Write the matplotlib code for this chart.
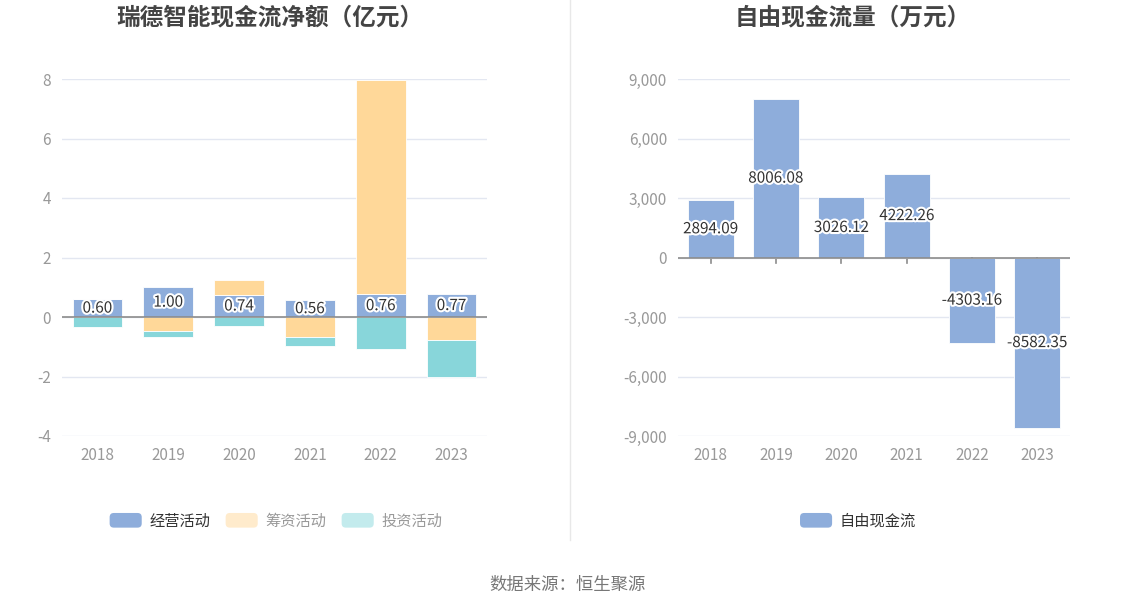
import matplotlib
matplotlib.use("Agg")
import matplotlib.pyplot as plt
import matplotlib.patheffects as pe
from matplotlib.patches import Patch, FancyBboxPatch
from matplotlib.legend_handler import HandlerPatch
from matplotlib.ticker import FuncFormatter
import numpy as np

plt.rcParams['font.family'] = ['Noto Sans CJK SC', 'DejaVu Sans']
plt.rcParams['axes.unicode_minus'] = False

years = ['2018', '2019', '2020', '2021', '2022', '2023']
operating = [0.60, 1.00, 0.74, 0.56, 0.76, 0.77]
financing = [0.00, -0.47, 0.50, -0.68, 7.19, -0.76]
investing = [-0.32, -0.19, -0.30, -0.29, -1.09, -1.24]
free_cf = [2894.09, 8006.08, 3026.12, 4222.26, -4303.16, -8582.35]

left_title = '瑞德智能现金流净额（亿元）'
right_title = '自由现金流量（万元）'
legend_left = ['经营活动', '筹资活动', '投资活动']
legend_right = ['自由现金流']
source = '数据来源：恒生聚源'

c_op = '#8eaddb'
c_fin = '#ffd899'
c_inv = '#88d6da'
c_fin_leg = '#ffebcc'
c_inv_leg = '#c3ebed'
grid_c = '#e3e7f1'
tick_c = '#999999'
txt_c = '#333333'


class RoundHandler(HandlerPatch):
    def create_artists(self, legend, orig_handle, xdescent, ydescent, width, height, fontsize, trans):
        p = FancyBboxPatch((-xdescent, -ydescent), width, height,
                           boxstyle='round,pad=0,rounding_size=3',
                           facecolor=orig_handle.get_facecolor(), edgecolor='none',
                           transform=trans)
        return [p]


fig = plt.figure(figsize=(11.34, 6.12), dpi=100)
fig.patch.set_facecolor('white')

ax1 = fig.add_axes([62/1134, 1-436/612, (487-62)/1134, (436-79)/612])
ax2 = fig.add_axes([678/1134, 1-436/612, (1070-678)/1134, (436-79)/612])

x = np.arange(len(years))
w = 0.7

pos_base = np.zeros(len(years))
neg_base = np.zeros(len(years))
for vals, col in [(operating, c_op), (financing, c_fin), (investing, c_inv)]:
    vals = np.array(vals)
    bottoms = np.where(vals >= 0, pos_base, neg_base)
    ax1.bar(x, vals, w, bottom=bottoms, color=col, edgecolor='white', linewidth=0.6, zorder=3)
    pos_base = pos_base + np.where(vals >= 0, vals, 0)
    neg_base = neg_base + np.where(vals < 0, vals, 0)

stroke = [pe.withStroke(linewidth=3, foreground='white')]
for xi, v in zip(x, operating):
    ax1.text(xi, v/2, f'{v:.2f}', ha='center', va='center', fontsize=11, color=txt_c,
             path_effects=stroke, zorder=5)

ax1.set_ylim(-4, 8)
ax1.set_yticks([-4, -2, 0, 2, 4, 6, 8])
ax1.set_xlim(-0.5, 5.5)

ax2.bar(x, free_cf, w, color=c_op, edgecolor='white', linewidth=0.6, zorder=3)
for xi, v in zip(x, free_cf):
    ax2.text(xi, v/2, f'{v:.2f}', ha='center', va='center', fontsize=11, color=txt_c,
             path_effects=stroke, zorder=5)
ax2.set_ylim(-9000, 9000)
ax2.set_yticks([-9000, -6000, -3000, 0, 3000, 6000, 9000])
ax2.yaxis.set_major_formatter(FuncFormatter(lambda v, p: f'{int(v):,}'))
ax2.set_xlim(-0.5, 5.5)

for ax in (ax1, ax2):
    for s in ax.spines.values():
        s.set_visible(False)
    ax.set_xticks(x)
    ax.set_xticklabels(years)
    ax.grid(axis='y', color=grid_c, linewidth=1, zorder=0)
    ax.set_axisbelow(True)
    ax.tick_params(axis='y', length=0, pad=8, labelsize=11, labelcolor=tick_c)
    ax.tick_params(axis='x', length=0, pad=8, labelsize=11, labelcolor=tick_c)
    ax.axhline(0, color='#8c8c8c', linewidth=1.2, zorder=4)

for xi in x:
    ax2.plot([xi, xi], [0, -300], color='#8c8c8c', linewidth=1.2, zorder=2)

fig.text(270/1134, 1-17/612, left_title, ha='center', va='center', fontsize=17,
         fontweight='bold', color='#444444')
fig.text(853/1134, 1-17/612, right_title, ha='center', va='center', fontsize=17,
         fontweight='bold', color='#444444')

fig.add_artist(plt.Line2D([570/1134, 570/1134], [1-540/612, 1.0], transform=fig.transFigure,
                          color='#e8e8e8', linewidth=1))

h1 = [Patch(facecolor=c_op), Patch(facecolor=c_fin_leg), Patch(facecolor=c_inv_leg)]
leg1 = fig.legend(h1, legend_left, loc='center', bbox_to_anchor=(276/1134, 1-521/612), ncol=3,
                  frameon=False, fontsize=11, handlelength=2.1, handleheight=1.1,
                  columnspacing=1.0, handletextpad=0.5,
                  handler_map={Patch: RoundHandler()})
for t, c in zip(leg1.get_texts(), [txt_c, tick_c, tick_c]):
    t.set_color(c)

leg2 = fig.legend([Patch(facecolor=c_op)], legend_right, loc='center',
                  bbox_to_anchor=(858/1134, 1-521/612), frameon=False, fontsize=11,
                  handlelength=2.1, handleheight=1.1, handletextpad=0.5,
                  handler_map={Patch: RoundHandler()})
for t in leg2.get_texts():
    t.set_color(txt_c)

fig.text(567/1134, 1-585/612, source, ha='center', va='center', fontsize=12.5, color='#777777')

fig.savefig('out.png', dpi=100, facecolor='white')
